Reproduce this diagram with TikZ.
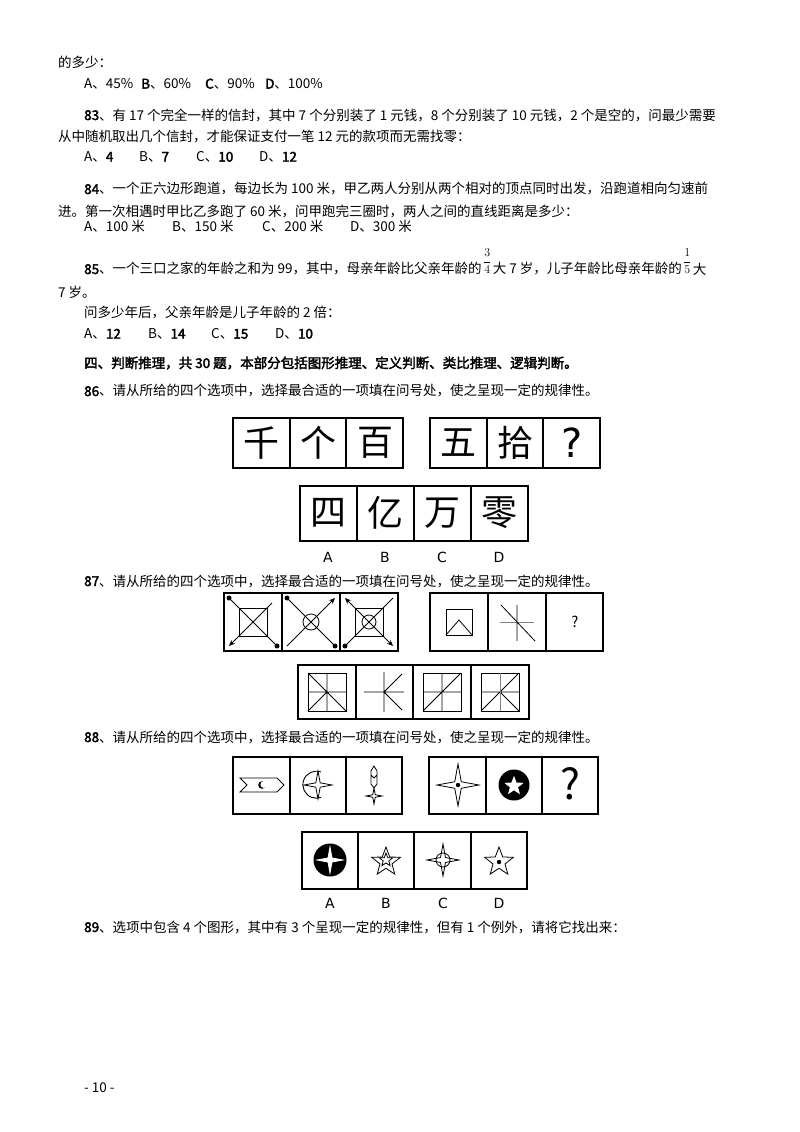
\documentclass[tikz,border=0pt]{standalone}
\usepackage{fontspec}
\setmainfont{Noto Sans CJK SC}[AutoFakeBold=2.5]
\newfontfamily\lab{DejaVu Sans}
\usetikzlibrary{arrows.meta}
\tikzset{
 t/.style={anchor=west,inner sep=0pt,font=\fontsize{13.5}{14}\selectfont},
 tb/.style={t,font=\fontsize{13.5}{14}\selectfont\bfseries},
 big/.style={inner sep=0pt,font=\fontsize{36}{38}\selectfont},
 lb/.style={inner sep=0pt,font=\fontsize{14}{16}\lab},
 fr/.style={line width=1.2pt},
 th/.style={line width=1pt},
 ar/.style={-{Stealth[length=6pt,width=5pt]},line width=0.8pt},
 frc/.style={anchor=west,inner sep=0pt,font=\fontsize{12}{12}\selectfont},
}
\newcommand\fourst[4]{\draw[line width=0.8pt,#4] (#1,#2) +(90:#3) -- +(45:0.22*#3) -- +(0:#3) -- +(-45:0.22*#3) -- +(-90:#3) -- +(-135:0.22*#3) -- +(180:#3) -- +(135:0.22*#3) -- cycle;}
\newcommand\fivest[4]{\draw[line width=0.8pt,#4] (#1,#2) +(-90:#3) -- +(-54:0.42*#3) -- +(-18:#3) -- +(18:0.42*#3) -- +(54:#3) -- +(90:0.42*#3) -- +(126:#3) -- +(162:0.42*#3) -- +(198:#3) -- +(234:0.42*#3) -- cycle;}
\begin{document}
\begin{tikzpicture}[x=1pt,y=-1pt]
\useasboundingbox[fill=white] (0,0) rectangle (800,1132);
\node[t] (l1) at (58,62) {的多少：};
\node[t] (o1a) at (84,84) {A、45\%}; \node[t] (o1b) at (141,84) {\textbf{B}、60\%};
\node[t] (o1c) at (205,84) {\textbf{C}、90\%}; \node[t] (o1d) at (265,84) {\textbf{D}、100\%};
\node[t] (q83) at (84,115) {\textbf{83}、有 17 个完全一样的信封，其中 7 个分别装了 1 元钱，8 个分别装了 10 元钱，2 个是空的，问最少需要};
\node[t] (q83b) at (58,137) {从中随机取出几个信封，才能保证支付一笔 12 元的款项而无需找零：};
\node[t] (o2a) at (84,157) {A、\textbf{4}}; \node[t] (o2b) at (139,157) {B、\textbf{7}};
\node[t] (o2c) at (196,157) {C、\textbf{10}}; \node[t] (o2d) at (259,157) {D、\textbf{12}};
\node[t] (q84) at (84,189) {\textbf{84}、一个正六边形跑道，每边长为 100 米，甲乙两人分别从两个相对的顶点同时出发，沿跑道相向匀速前};
\node[t] (q84b) at (58,211) {进。第一次相遇时甲比乙多跑了 60 米，问甲跑完三圈时，两人之间的直线距离是多少：};
\node[t] (o3a) at (84,226) {A、100 米}; \node[t] (o3b) at (172,226) {B、150 米};
\node[t] (o3c) at (262,226) {C、200 米}; \node[t] (o3d) at (350,226) {D、300 米};
\node[t] (q85) at (84,269) {\textbf{85}、一个三口之家的年龄之和为 99，其中，母亲年龄比父亲年龄的};
\node[frc] (f1) at ([xshift=1pt,yshift=8pt]q85.east) {$\displaystyle\frac{3}{4}$};
\node[t] (q85m) at ([xshift=1pt]q85.east -| f1.east) {大 7 岁，儿子年龄比母亲年龄的};
\node[frc] (f2) at ([xshift=1pt,yshift=8pt]q85m.east) {$\displaystyle\frac{1}{5}$};
\node[t] (q85e) at ([xshift=1pt]q85m.east -| f2.east) {大};
\node[t] (q85b) at (58,292) {7 岁。};
\node[t] (q85c) at (84,312) {问多少年后，父亲年龄是儿子年龄的 2 倍：};
\node[t] (o4a) at (84,334) {A、\textbf{12}}; \node[t] (o4b) at (148,334) {B、\textbf{14}};
\node[t] (o4c) at (211,334) {C、\textbf{15}}; \node[t] (o4d) at (275,334) {D、\textbf{10}};
\node[tb] (h4) at (84,363) {四、判断推理，共 30 题，本部分包括图形推理、定义判断、类比推理、逻辑判断。};
\node[t] (q86) at (84,391) {\textbf{86}、请从所给的四个选项中，选择最合适的一项填在问号处，使之呈现一定的规律性。};
% fig 86
\draw[fr] (233,418) rectangle (403,468) (290,418)--(290,468) (346,418)--(346,468);
\draw[fr] (430,418) rectangle (600,468) (487,418)--(487,468) (543,418)--(543,468);
\draw[fr] (300,486) rectangle (528,541) (357,486)--(357,541) (414,486)--(414,541) (471,486)--(471,541);
\node[big] (c1) at (261,443) {千}; \node[big] (c2) at (318,443) {个}; \node[big] (c3) at (375,443) {百};
\node[big] (c4) at (458,443) {五}; \node[big] (c5) at (515,443) {拾}; \node[big,font=\fontsize{40}{40}\lab] (c6) at (572,443) {?};
\node[big] (d1) at (328,513) {四}; \node[big] (d2) at (385,513) {亿}; \node[big] (d3) at (442,513) {万}; \node[big] (d4) at (499,513) {零};
\node[lb] (la) at (328,557) {A}; \node[lb] (lbb) at (385,557) {B}; \node[lb] (lc) at (442,557) {C}; \node[lb] (ld) at (499,557) {D};
\node[t] (q87) at (84,581) {\textbf{87}、请从所给的四个选项中，选择最合适的一项填在问号处，使之呈现一定的规律性。};
% fig 87
\draw[fr] (224,593) rectangle (398,651) (282,593)--(282,651) (340,593)--(340,651);
\draw[fr] (430,593) rectangle (603,651) (488,593)--(488,651) (546,593)--(546,651);
\draw[fr] (298,665) rectangle (529,719) (356,665)--(356,719) (413,665)--(413,719) (471,665)--(471,719);
\draw[th] (239,608) rectangle (267,636);
\draw[line width=0.8pt] (229,598)--(277,646);
\fill (229,598) circle(2.5) (277,646) circle(2.5);
\draw[ar] (272,603)--(229,646);
\draw[line width=0.8pt] (311,622) circle(8) (287,598)--(335,646);
\fill (287,598) circle(2.5) (335,646) circle(2.5);
\draw[ar] (287,646)--(335,598);
\draw[th] (355,608) rectangle (383,636);
\draw[line width=0.8pt] (369,622) circle(7) (345,646)--(393,598);
\fill (345,646) circle(2.5);
\draw[ar] (369,622)--(345,598); \draw[ar] (369,622)--(393,646);
\draw[th] (446,609) rectangle (472,635);
\draw[line width=0.8pt] (446,635)--(459,620)--(472,635);
\draw[gray,line width=0.8pt] (500,622)--(534,622);
\draw[line width=0.8pt] (517,605)--(517,641) (501,605)--(535,641);
\node[inner sep=0pt,font=\fontsize{15}{16}\selectfont] (qm) at (575,622) {?};
\begin{scope}[shift={(327,692)}]
 \draw[th] (-19,-19) rectangle (19,19);
 \draw[line width=0.8pt] (-19,0)--(19,0) (0,-19)--(0,19) (-19,-19)--(19,19) (0,0)--(-19,19);
\end{scope}
\begin{scope}[shift={(384,692)}]
 \draw[line width=0.8pt] (-20,0)--(20,0) (0,-20)--(0,20) (0,0)--(18,-18) (0,0)--(18,18);
\end{scope}
\begin{scope}[shift={(442,692)}]
 \draw[th] (-19,-19) rectangle (19,19);
 \draw[line width=0.8pt] (-19,0)--(19,0) (0,-19)--(0,19) (-19,19)--(19,-19);
\end{scope}
\begin{scope}[shift={(500,692)}]
 \draw[th] (-19,-19) rectangle (19,19);
 \draw[line width=0.8pt] (-19,0)--(19,0) (-19,19)--(19,-19) (0,0)--(19,19);
 \draw[gray,line width=0.8pt] (0,-19)--(0,19);
\end{scope}
\node[t] (q88) at (84,737) {\textbf{88}、请从所给的四个选项中，选择最合适的一项填在问号处，使之呈现一定的规律性。};
% fig 88
\draw[fr] (233,757) rectangle (402,814) (290,757)--(290,814) (346,757)--(346,814);
\draw[fr] (429,757) rectangle (598,814) (486,757)--(486,814) (542,757)--(542,814);
\draw[fr] (302,832) rectangle (527,889) (358,832)--(358,889) (414,832)--(414,889) (471,832)--(471,889);
\draw[line width=0.8pt] (240,778)--(277,778)--(284,785)--(277,792)--(240,792)--(247,785)--cycle;
\fill (262,785) circle(3.8); \fill[white] (263.8,784.5) circle(3.4);
\fourst{318}{785}{14}{};
\draw[line width=0.9pt] (321,772) arc[start angle=-70,end angle=-290,radius=13.5];
\draw[line width=0.8pt] (371,771)--(374,766)--(377,771)--(377,784)--(374,788)--(371,784)--cycle (371,775)--(374,778)--(377,775);
\fourst{374}{796}{8}{};
\fourst{458}{785}{21}{};
\fill (458,785) circle(2.2);
\fill (514,785) circle(15.5);
\fivest{514}{786}{9}{fill=white,draw=white};
\node[big,font=\fontsize{42}{42}\selectfont] (q2) at (570,784) {?};
\fill (330,860) circle(16.5);
\fourst{330}{860}{13}{fill=white,draw=white};
\fivest{386}{862}{15}{};
\fivest{386}{860}{7}{};
\fourst{443}{860}{16}{};
\draw[line width=0.8pt] (443,860) circle(7);
\fivest{499}{862}{15}{};
\fill (499,862) circle(2.2);
\node[lb] (ma) at (330,903) {A}; \node[lb] (mb) at (386,903) {B}; \node[lb] (mc) at (443,903) {C}; \node[lb] (md) at (499,903) {D};
\node[t] (q89) at (84,927) {\textbf{89}、选项中包含 4 个图形，其中有 3 个呈现一定的规律性，但有 1 个例外，请将它找出来：};
\node[t] (pg) at (84,1088) {- 10 -};
\end{tikzpicture}
\end{document}
